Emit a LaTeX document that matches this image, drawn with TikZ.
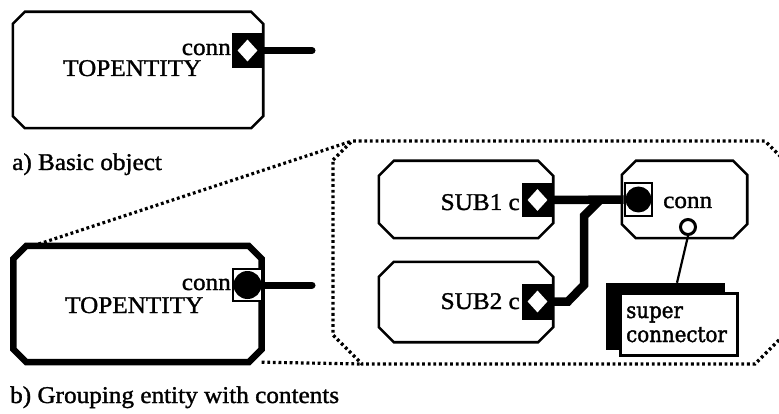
\documentclass[tikz,border=0pt]{standalone}
\usepackage{fontspec}
\setmainfont{Liberation Serif}[FakeStretch=1.05,FakeBold=1.3]
\newfontfamily\plainfont{DejaVu Serif}[FakeStretch=0.9,FakeBold=1.6]
\usetikzlibrary{shapes.geometric}

% outline of an entity: a rectangle with its four corners cut off
\newcommand\chamferedoutline[3]{%
  \draw[#3] ([xshift=#2]#1.north west) -- ([xshift=-#2]#1.north east)
    -- ([yshift=-#2]#1.north east) -- ([yshift=#2]#1.south east)
    -- ([xshift=-#2]#1.south east) -- ([xshift=#2]#1.south west)
    -- ([yshift=#2]#1.south west) -- ([yshift=-#2]#1.north west) -- cycle;}

\begin{document}
\begin{tikzpicture}[x=1pt,y=-1pt,
  frame/.style={rectangle,inner sep=0pt,minimum width=#1},
  thinline/.style={line width=2.6pt,line join=miter},
  thickline/.style={line width=6.5pt,line join=miter},
  caption/.style={inner sep=0pt,font=\fontsize{24}{26}\selectfont},
  boxlabel/.style={inner sep=0pt,font=\plainfont\fontsize{22}{24}\selectfont},
  solidport/.style={rectangle,fill=black,inner sep=0pt},
  ringport/.style={rectangle,fill=white,draw=black,line width=2.8pt,inner sep=0pt},
  gem/.style={diamond,fill=white,inner sep=0pt,minimum width=20pt,minimum height=22pt},
  dot/.style={circle,fill=black,inner sep=0pt,minimum size=#1},
  stub/.style={line width=7pt,line cap=round},
  bus/.style={line width=8.5pt,line join=miter},
  dotted line/.style={line width=3.2pt,line cap=butt,dash pattern=on 2.8pt off 2.8pt}]
\useasboundingbox (0,0) rectangle (779,414);
\clip (0,0) rectangle (779,414);

% ---------- a) basic object ----------
\node[frame=250pt,minimum height=116pt] (A) at (138,70) {};
\chamferedoutline{A}{12pt}{thinline}
\node[solidport,minimum width=31pt,minimum height=35pt] (pa) at (247.5,50.5) {};
\node[gem] (ga) at (pa.center) {};
\coordinate (ea) at (312,50.5);
\draw[stub] (pa.east) -- (ea);
\node[caption,anchor=base east] (ca) at (231,55) {conn};
\node[caption,anchor=base west] (ta) at (63,76) {TOPENTITY};
\node[caption,anchor=base west] (capa) at (12,170) {a) Basic object};

% ---------- b) grouping entity ----------
\node[frame=248pt,minimum height=116pt] (B) at (137.5,304) {};
\chamferedoutline{B}{13pt}{thickline}
\node[ringport,minimum width=29pt,minimum height=32pt] (pb) at (247.5,285) {};
\node[dot=28pt] (db) at (pb.center) {};
\coordinate (eb) at (312,285);
\draw[stub] (pb.east) -- (eb);
\node[caption,anchor=base east] (cb) at (231,290) {conn};
\node[caption,anchor=base west] (tb) at (65,313) {TOPENTITY};
\node[caption,anchor=base west] (capb) at (10,403) {b) Grouping entity with contents};

% ---------- contents of the grouping entity ----------
\coordinate (rtl) at (352,141);
\coordinate (rbl) at (362,364);
\draw[dotted line] (333,160) -- (rtl) -- (765,141) -- (785,161) -- (785,334)
  -- (755,364) -- (rbl) -- (333,335) -- cycle;
\draw[dotted line] ([xshift=20pt]B.north west) -- (rtl);
\draw[dotted line] (B.south east) -- (rbl);

% sub entities
\node[frame=174pt,minimum height=77pt] (S1) at (466,199.5) {};
\chamferedoutline{S1}{15pt}{thinline}
\node[solidport,minimum width=31pt,minimum height=34pt] (s1p) at (537.5,200) {};
\node[gem] (g1) at (s1p.center) {};
\node[caption,anchor=base east] (t1) at (520,210) {SUB1 c};

\node[frame=174pt,minimum height=80pt] (S2) at (466,302) {};
\chamferedoutline{S2}{15pt}{thinline}
\node[solidport,minimum width=31pt,minimum height=36pt] (s2p) at (537.5,301.5) {};
\node[gem] (g2) at (s2p.center) {};
\node[caption,anchor=base east] (t2) at (520,309) {SUB2 c};

% connector entity
\node[frame=125pt,minimum height=77pt] (C) at (684.5,199.5) {};
\chamferedoutline{C}{14pt}{thinline}
\node[ringport,minimum width=27pt,minimum height=33pt] (cp) at (638.5,199.5) {};
\node[dot=26pt] (dc) at (cp.center) {};
\node[caption,anchor=base west] (tc) at (663,208) {conn};
\node[circle,draw=black,fill=white,line width=3pt,minimum size=15pt,inner sep=0pt] (sc) at (688,227) {};

% wiring between the sub entities and the connector
\coordinate (junc) at (600,200);
\draw[bus] (s1p.east) -- (cp.west);
\draw[bus] (s2p.east) -- (568,301.5) -- (584,285) -- (584,216) -- (junc);

% super connector
\node[rectangle,fill=black,inner sep=0pt,minimum width=119pt,minimum height=67pt] (back) at (665.5,316.5) {};
\node[rectangle,fill=white,draw=black,line width=3.2pt,inner sep=0pt,minimum width=117pt,minimum height=62pt] (sup) at (679,324.5) {};
\node[boxlabel,anchor=base west] (sl1) at (626,318) {super};
\node[boxlabel,anchor=base west] (sl2) at (626,342) {connector};
\draw[line width=2.2pt] (sc.south) -- ([xshift=11.5pt]back.north);
\end{tikzpicture}
\end{document}
